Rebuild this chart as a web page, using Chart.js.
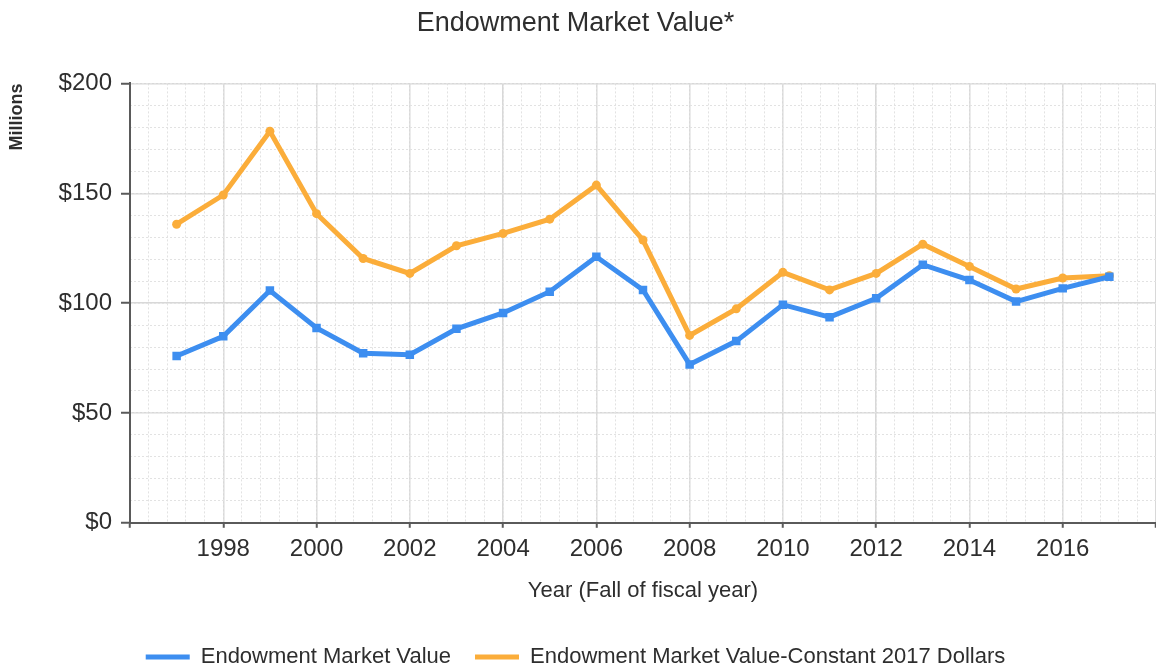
<!DOCTYPE html>
<html>
<head>
<meta charset="utf-8">
<title>Endowment Market Value</title>
<script src="https://cdn.jsdelivr.net/npm/chart.js@4.4.1/dist/chart.umd.min.js"></script>
<style>
  html, body { margin: 0; padding: 0; background: #fff; }
  #wrap { width: 1156px; height: 671px; }
</style>
</head>
<body>
<div id="wrap"><canvas id="endowChart"></canvas></div>
<script>
// === Données ===
const years = [1997, 1998, 1999, 2000, 2001, 2002, 2003, 2004, 2005, 2006, 2007,
  2008, 2009, 2010, 2011, 2012, 2013, 2014, 2015, 2016, 2017];
const marketValue = [75.9, 84.9, 105.7, 88.7, 77.2, 76.5, 88.3, 95.5, 105.2, 121.1, 106.0,
  72.1, 82.7, 99.3, 93.6, 102.2, 117.5, 110.5, 100.7, 106.7, 112.0];
const constantDollars = [135.9, 149.2, 178.2, 140.7, 120.3, 113.5, 126.1, 131.7, 138.2, 153.7, 128.7,
  85.3, 97.4, 114.0, 106.0, 113.5, 126.8, 116.7, 106.4, 111.4, 112.5];
const yearRange = [1996, 2018];
const valueRange = [0, 200];

const seriesNames = ["Endowment Market Value", "Endowment Market Value-Constant 2017 Dollars"];
const blue = "#3d8ef0";
const orange = "#fbad3a";
const textColor = "#2e2e2e";
const axisColor = "#5a5a5a";
const fontFamily = "'Liberation Sans', Arial, sans-serif";

const toPoints = (vals) => years.map((y, i) => ({ x: y, y: vals[i] }));

// grille secondaire en pointillés
const minorAxis = (step, range, position) => ({
  type: "linear",
  position: position,
  min: range[0],
  max: range[1],
  ticks: { display: false, stepSize: step, autoSkip: false },
  grid: { color: "#e2e2e2", lineWidth: 1, drawTicks: false },
  border: { display: false, dash: [2, 2] }
});

new Chart(document.getElementById("endowChart"), {
  type: "line",
  data: {
    datasets: [
      {
        label: seriesNames[0],
        data: toPoints(marketValue),
        borderColor: blue,
        backgroundColor: blue,
        borderWidth: 5,
        pointStyle: "rect",
        pointRadius: 6,
        pointBorderWidth: 0,
        tension: 0
      },
      {
        label: seriesNames[1],
        data: toPoints(constantDollars),
        borderColor: orange,
        backgroundColor: orange,
        borderWidth: 5,
        pointStyle: "circle",
        pointRadius: 4.5,
        pointBorderWidth: 0,
        tension: 0
      }
    ]
  },
  options: {
    responsive: true,
    maintainAspectRatio: false,
    animation: false,
    layout: { autoPadding: false, padding: { left: -5, right: 0, top: 0, bottom: -7 } },
    scales: {
      x: {
        type: "linear",
        min: yearRange[0],
        max: yearRange[1],
        afterFit: (scale) => { scale.paddingRight = 0; }, // l'axe va jusqu'au bord
        ticks: {
          stepSize: 2,
          autoSkip: false,
          maxRotation: 0,
          padding: 7,
          color: textColor,
          font: { family: fontFamily, size: 24 },
          callback: (v) => (v === yearRange[0] || v === yearRange[1]) ? "" : String(v)
        },
        grid: { color: "#d8d8d8", lineWidth: 1.5, tickColor: axisColor, tickLength: 5, tickWidth: 2 },
        border: { color: axisColor, width: 2 },
        title: {
          display: true,
          text: "Year (Fall of fiscal year)",
          color: textColor,
          font: { family: fontFamily, size: 22 },
          padding: { top: 7, bottom: 18 }
        }
      },
      xMinor: minorAxis(0.4, yearRange, "bottom"),
      y: {
        type: "linear",
        min: valueRange[0],
        max: valueRange[1],
        ticks: {
          stepSize: 50,
          padding: 9,
          color: textColor,
          font: { family: fontFamily, size: 24 },
          callback: (v) => "$" + v
        },
        grid: { color: "#d8d8d8", lineWidth: 1.5, tickColor: axisColor, tickLength: 9, tickWidth: 2 },
        border: { color: axisColor, width: 2 },
        title: {
          display: true,
          text: "Millions",
          align: "end",
          color: textColor,
          font: { family: fontFamily, size: 18, weight: "bold" },
          padding: { top: 11, bottom: 22 }
        }
      },
      yMinor: minorAxis(10, valueRange, "left")
    },
    plugins: {
      title: {
        display: true,
        text: "Endowment Market Value*",
        color: textColor,
        font: { family: fontFamily, size: 27, weight: "normal" },
        padding: { top: 7, bottom: 44 }
      },
      legend: {
        position: "bottom",
        labels: {
          usePointStyle: true,
          pointStyle: "line",
          pointStyleWidth: 44,
          padding: 24,
          color: textColor,
          font: { family: fontFamily, size: 22 },
          generateLabels: (chart) => Chart.defaults.plugins.legend.labels.generateLabels(chart)
            .map(item => ({ ...item, lineWidth: 5 }))
        }
      },
      tooltip: { enabled: false }
    }
  }
});
</script>
</body>
</html>
